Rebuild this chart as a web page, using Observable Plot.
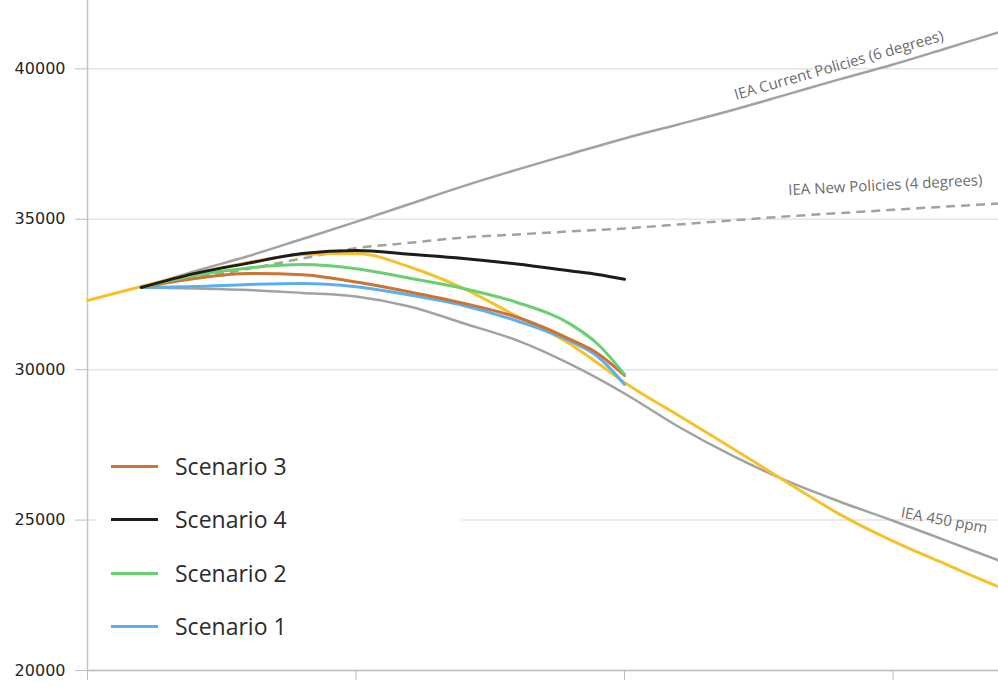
<!DOCTYPE html>
<html><head><meta charset="utf-8">
<script src="https://cdn.jsdelivr.net/npm/d3@7"></script>
<script src="https://cdn.jsdelivr.net/npm/@observablehq/plot@0.6"></script>
<style>
html,body{margin:0;padding:0;background:#fff;overflow:hidden;}
#frame{position:relative;width:998px;height:687px;overflow:hidden;background:#fff;}
#chart{position:absolute;left:-100px;top:-52px;width:1281px;height:762px;}
#chart svg{max-width:none !important;width:1281px;height:762px;}
#legend{position:absolute;left:96px;top:432px;width:366px;height:216px;background:#fff;font-family:"Open Sans",sans-serif;font-size:23px;color:#2c2c2c;}
.row{position:absolute;left:15px;height:30px;display:flex;align-items:center;}
.sw{width:47px;height:0;border-top:3px solid;margin-right:17px;}
</style></head>
<body><div id="frame"><div id="chart"></div><div id="legend"></div></div>
<script>
// Tick values
const yTicks = [20000, 25000, 30000, 35000, 40000];
const xTicks = [2010, 2020, 2030, 2040, 2050];

// IEA scenarios
const ieaYears = [2012,2014,2016,2018,2020,2022,2024,2026,2028,2030,2032,2034,2036,2038,2040,2042,2044,2046,2048,2050];
const currentPolicies = [32733,33271,33780,34342,34911,35506,36101,36649,37171,37686,38152,38624,39133,39648,40143,40685,41230,41759,42274,42773];
const newPolicies = [32733,33055,33355,33697,34036,34216,34395,34495,34598,34694,34827,34960,35093,35206,35313,35422,35525,35625,35708,35791];
const ppm450 = [32733,32700,32650,32550,32434,32101,31543,30971,30173,29209,28112,27148,26317,25618,24977,24310,23640,23000,22400,21830];

// Historical + yellow pathway
const pathwayYears = [2010,2012,2014,2016,2018,2020,2022,2024,2026,2028,2029,2030,2032,2034,2036,2038,2040,2042,2044,2046,2048,2050];
const pathway = [32300,32766,33198,33564,33830,33864,33414,32700,31769,30838,30219,29575,28484,27397,26283,25200,24300,23520,22760,22080,21450,20900];

// Model scenarios
const scenarioYears = [2012,2014,2016,2018,2020,2022,2024,2026,2028,2029,2030];
const scenario1 = [32733,32766,32833,32866,32756,32484,32134,31619,30938,30439,29508];
const scenario2 = [32733,33132,33381,33494,33355,33039,32700,32234,31506,30854,29841];
const scenario3 = [32733,33032,33198,33158,32912,32583,32208,31742,30997,30538,29807];
const scenario4 = [32733,33202,33541,33863,33963,33837,33697,33511,33281,33165,33006];

// Annotations
const annLabels = ["IEA Current Policies (6 degrees)", "IEA New Policies (4 degrees)", "IEA 450 ppm"];
const annYears = [2034.1, 2036.1, 2040.3];
const annValues = [39116, 35958, 25253];

// Legend
const legendNames = ["Scenario 3", "Scenario 4", "Scenario 2", "Scenario 1"];
const colors = {
  "Scenario 1": "#5cb0f2",
  "Scenario 2": "#68d070",
  "Scenario 3": "#cc7433",
  "Scenario 4": "#1c1c1c",
  pathway: "#f6c22c",
  iea: "#a2a2a2"
};

const rows = (xs, ys) => xs.map((x, i) => ({year: x, value: ys[i]}));
const fmt = d3.format("d");
const lineOpts = (stroke, w, extra = {}) => ({x: "year", y: "value", stroke, strokeWidth: w, curve: "monotone-x", strokeLinecap: "round", ...extra});

const chart = Plot.plot({
  width: 1281, height: 762,
  marginLeft: 187, marginRight: 20, marginTop: 0, marginBottom: 40,
  style: {background: "transparent", overflow: "visible"},
  x: {domain: [2010, 2050]},
  y: {domain: [20000, 44000]},
  marks: [
    Plot.gridY(yTicks, {stroke: "#e4e4e4", strokeOpacity: 1, strokeWidth: 1.5}),
    Plot.ruleY([20000], {stroke: "#bfbfbf", strokeWidth: 1.5}),
    Plot.ruleX([2010], {stroke: "#c4c4c4", strokeWidth: 1.5}),
    Plot.axisY(yTicks, {tickSize: 12, tickPadding: 10, fontSize: 16, fontFamily: "DejaVu Sans", fill: "#262626", stroke: "#bdbdbd", tickFormat: d => fmt(d), label: null}),
    Plot.axisX(xTicks, {tickSize: 10, tickFormat: () => "", label: null, stroke: "#bdbdbd"}),
    Plot.line(rows(ieaYears, currentPolicies), lineOpts(colors.iea, 2.5)),
    Plot.line(rows(ieaYears, newPolicies), lineOpts(colors.iea, 2.5, {strokeDasharray: "9,6", strokeLinecap: "butt"})),
    Plot.line(rows(ieaYears, ppm450), lineOpts(colors.iea, 2.5)),
    Plot.line(rows(pathwayYears, pathway), lineOpts(colors.pathway, 3)),
    Plot.line(rows(scenarioYears, scenario1), lineOpts(colors["Scenario 1"], 3)),
    Plot.line(rows(scenarioYears, scenario3), lineOpts(colors["Scenario 3"], 3)),
    Plot.line(rows(scenarioYears, scenario2), lineOpts(colors["Scenario 2"], 3)),
    Plot.line(rows(scenarioYears, scenario4), lineOpts(colors["Scenario 4"], 3)),
    Plot.text([0], {x: () => annYears[0], y: () => annValues[0], text: () => annLabels[0], rotate: -16, textAnchor: "start", fontSize: 15, fontFamily: "Open Sans", fill: "#6c6c6c"}),
    Plot.text([1], {x: () => annYears[1], y: () => annValues[1], text: () => annLabels[1], rotate: -3, textAnchor: "start", fontSize: 15, fontFamily: "Open Sans", fill: "#6c6c6c"}),
    Plot.text([2], {x: () => annYears[2], y: () => annValues[2], text: () => annLabels[2], rotate: 10.5, textAnchor: "start", fontSize: 15, fontFamily: "Open Sans", fill: "#6c6c6c"})
  ]
});
document.getElementById("chart").appendChild(chart);

const legend = document.getElementById("legend");
const rowTops = [19, 72, 126, 179];
legendNames.forEach((name, i) => {
  const r = document.createElement("div");
  r.className = "row";
  r.style.top = rowTops[i] + "px";
  const sw = document.createElement("div");
  sw.className = "sw";
  sw.style.borderTopColor = colors[name];
  const t = document.createElement("span");
  t.textContent = name;
  r.appendChild(sw); r.appendChild(t);
  legend.appendChild(r);
});
</script>
</body></html>
